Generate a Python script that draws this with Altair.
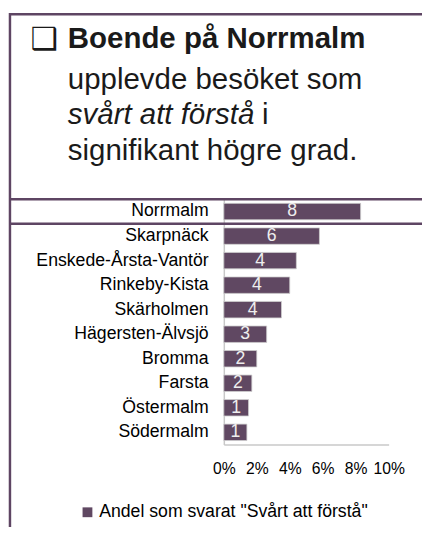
import altair as alt
import pandas as pd

# ---- data ----
categories = ["Norrmalm", "Skarpnäck", "Enskede-Årsta-Vantör", "Rinkeby-Kista",
              "Skärholmen", "Hägersten-Älvsjö", "Bromma", "Farsta",
              "Östermalm", "Södermalm"]
values = [8.3, 5.8, 4.4, 4.0, 3.5, 2.6, 2.0, 1.7, 1.5, 1.4]
bar_labels = ["8", "6", "4", "4", "4", "3", "2", "2", "1", "1"]
series_name = 'Andel som svarat "Svårt att förstå"'
x_ticks = [0, 2, 4, 6, 8, 10]

title_box = "❑"
title_bold = "Boende på Norrmalm"
title_line2 = "upplevde besöket som"
title_italic = "svårt att förstå"
title_tail = "i"
title_line4 = "signifikant högre grad."

PURPLE = "#604862"
LINE = "#5e4563"
FONT = "Liberation Sans"

df = pd.DataFrame({
    "category": categories,
    "value": values,
    "label": bar_labels,
    "series": [series_name] * len(categories),
})
one = pd.DataFrame({"k": [0]})

x_axis = alt.Axis(values=x_ticks, labelExpr="datum.value + '%'",
                  title=None, grid=False, ticks=False,
                  labelOverlap=False, labelFlush=False,
                  labelFontSize=16, labelFont=FONT, labelColor="black",
                  labelPadding=16, domainColor="#c8c8c8", domainWidth=1.5)
x_scale = alt.Scale(domain=[0, 10], nice=False)
y_axis = alt.Axis(title=None, ticks=False, labelFontSize=18,
                  labelFont=FONT, labelColor="black", labelPadding=16,
                  labelLimit=400, domainColor="#c8c8c8", domainWidth=1.5)
y_scale = alt.Scale(paddingInner=0.33, paddingOuter=0.165)

base = alt.Chart(df)

bars = base.mark_bar(stroke="#cfcfcf", strokeWidth=0.8).encode(
    x=alt.X("value:Q", scale=x_scale, axis=x_axis),
    y=alt.Y("category:N", sort=categories, scale=y_scale, axis=y_axis),
    color=alt.Color("series:N", scale=alt.Scale(range=[PURPLE]),
                    legend=alt.Legend(title=None, orient="none",
                                      legendX=-148, legendY=310,
                                      symbolType="square", symbolSize=100,
                                      symbolStrokeWidth=0,
                                      labelFontSize=18, labelFont=FONT,
                                      labelColor="black", labelLimit=400,
                                      labelOffset=3, padding=0)),
)

texts = base.transform_calculate(mid="datum.value / 2").mark_text(
    color="#eeeeee", fontSize=18, font=FONT, baseline="middle"
).encode(
    x=alt.X("mid:Q", scale=x_scale, axis=x_axis),
    y=alt.Y("category:N", sort=categories, scale=y_scale, axis=y_axis),
    text="label:N",
)

def rule(**enc):
    return alt.Chart(one).mark_rule(color=LINE, strokeWidth=2.5).encode(**enc)

frame = [
    rule(x=alt.value(-218), x2=alt.value(205), y=alt.value(-188.7)),
    rule(x=alt.value(-218), y=alt.value(-190), y2=alt.value(345)),
    rule(x=alt.value(-218), x2=alt.value(205), y=alt.value(0)),
    rule(x=alt.value(-218), x2=alt.value(205), y=alt.value(25)),
]

def txt(s, x, y, size=30, weight="normal", style="normal", font=FONT):
    return alt.Chart(one).mark_text(
        align="left", baseline="alphabetic", fontSize=size,
        fontWeight=weight, fontStyle=style, font=font, color="#1a1a1a"
    ).encode(x=alt.value(x), y=alt.value(y), text=alt.value(s))

title_layers = [
    txt(title_box, -197, -153, size=31, font="DejaVu Sans"),
    txt(title_bold, -159, -154.5, weight="bold"),
    txt(title_line2, -159, -112.5),
    txt(title_italic, -159, -76.3, style="italic"),
    txt(title_tail, 39, -76.3),
    txt(title_line4, -159, -39.7),
]

chart = alt.layer(*frame, bars, texts, *title_layers).properties(
    width=168, height=250,
    padding={"left": 220, "top": 190, "right": 34, "bottom": 79},
    autosize=alt.AutoSizeParams(type="none"),
).configure_view(stroke=None)

chart.save("out.html", embed_options={"renderer": "svg", "actions": False})
